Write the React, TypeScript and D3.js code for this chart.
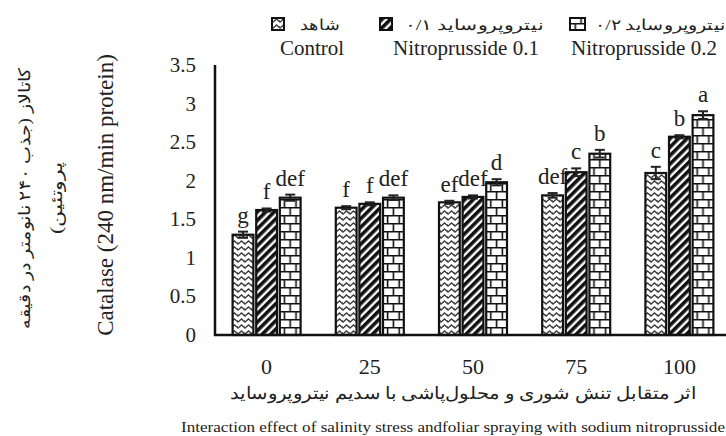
import * as d3 from "d3";

const categories = ["0", "25", "50", "75", "100"];
const seriesKeys = ["control", "np01", "np02"];

const controlValues = [1.3, 1.65, 1.72, 1.81, 2.1];
const np01Values = [1.62, 1.7, 1.79, 2.11, 2.57];
const np02Values = [1.78, 1.78, 1.98, 2.35, 2.85];

const controlErr = [0.04, 0.02, 0.02, 0.03, 0.08];
const np01Err = [0.02, 0.02, 0.02, 0.05, 0.02];
const np02Err = [0.04, 0.03, 0.04, 0.05, 0.05];

const controlLetters = ["g", "f", "ef", "def", "c"];
const np01Letters = ["f", "f", "def", "c", "b"];
const np02Letters = ["def", "def", "d", "b", "a"];

const yTicks = [0, 0.5, 1, 1.5, 2, 2.5, 3, 3.5];

const legendFa = ["شاهد", "نیتروپروساید ۰/۱", "نیتروپروساید ۰/۲"];
const legendEn = ["Control", "Nitroprusside 0.1", "Nitroprusside 0.2"];

const yTitleEn = "Catalase (240 nm/min protein)";
const yTitleFa1 = "کاتالاز (جذب ۲۴۰ نانومتر در دقیقه";
const yTitleFa2 = "پروتئین)";
const xTitleFa = "اثر متقابل تنش شوری و محلول‌پاشی با سدیم نیتروپروساید";
const xTitleEn = "Interaction effect of salinity stress andfoliar spraying with sodium nitroprusside";

const values = [controlValues, np01Values, np02Values];
const errs = [controlErr, np01Err, np02Err];
const letters = [controlLetters, np01Letters, np02Letters];

const W = 726;
const H = 436;
const serif = "'Liberation Serif', 'Times New Roman', serif";

export default function App() {
  const y = d3.scaleLinear().domain([0, 3.5]).range([335, 65]);
  const x0 = d3.scaleBand().domain(categories).range([215, 731]).padding(0);
  const x1 = d3.scaleBand().domain(seriesKeys).range([-34, 34]).paddingInner(0.12);
  const bw = x1.bandwidth();
  const fills = ["url(#zig)", "url(#diag)", ""];

  const legendBoxX = [272, 380, 570];
  const legendFaX = [320, 474, 660];
  const legendFaW = [40, 138, 130];
  const legendEnX = [312, 466, 644];

  return (
    <svg
      width={W}
      height={H}
      style={{ position: "absolute", left: 0, top: 0, background: "#fff" }}
      fontFamily={serif}
    >
      <defs>
        <pattern id="zig" patternUnits="userSpaceOnUse" width={7} height={6}>
          <rect width={7} height={6} fill="#fff" />
          <path d="M-1,5 L3.5,1 L8,5" fill="none" stroke="#3a3a3a" strokeWidth={1.4} />
          <path d="M-1,2 L0,3 M6,3 L8,1" fill="none" stroke="#777" strokeWidth={1} />
        </pattern>
        <pattern id="diag" patternUnits="userSpaceOnUse" width={6} height={6} patternTransform="rotate(45)">
          <rect width={6} height={6} fill="#fff" />
          <rect x={0} y={0} width={3.6} height={6} fill="#111" />
        </pattern>
        {categories.map((c) => {
          const bx = (x0(c) ?? 0) + x0.bandwidth() / 2 + (x1("np02") ?? 0);
          return (
            <pattern
              key={c}
              id={`brick-${c}`}
              patternUnits="userSpaceOnUse"
              x={bx}
              y={y(0)}
              width={bw}
              height={16}
            >
              <rect width={bw} height={16} fill="#fff" />
              <path
                d={`M0,0.75 H${bw} M0,8.75 H${bw} M${bw / 2},0 V8 M${bw * 0.22},8 V16 M${bw * 0.78},8 V16`}
                stroke="#111"
                strokeWidth={1.6}
                fill="none"
              />
            </pattern>
          );
        })}
      </defs>

      {/* legend */}
      {seriesKeys.map((k, i) => (
        <g key={k}>
          <rect
            x={legendBoxX[i]}
            y={18}
            width={i === 2 ? 15 : 12}
            height={12}
            fill={i === 2 ? `url(#brick-0)` : fills[i]}
            stroke="#111"
            strokeWidth={2}
          />
          <text
            x={legendFaX[i]}
            y={30}
            fontSize={15}
            textAnchor="middle"
            direction="rtl"
            textLength={legendFaW[i]}
            lengthAdjust="spacingAndGlyphs"
            fill="#222"
          >
            {legendFa[i]}
          </text>
          <text x={legendEnX[i]} y={55} fontSize={21} textAnchor="middle" fill="#222">
            {legendEn[i]}
          </text>
        </g>
      ))}

      {/* y axis title */}
      <text
        transform="translate(30,198) rotate(-90)"
        fontSize={16}
        textAnchor="middle"
        direction="rtl"
        textLength={262}
        lengthAdjust="spacingAndGlyphs"
        fill="#222"
      >
        {yTitleFa1}
      </text>
      <text
        transform="translate(62,198) rotate(-90)"
        fontSize={16}
        textAnchor="middle"
        direction="rtl"
        textLength={72}
        lengthAdjust="spacingAndGlyphs"
        fill="#222"
      >
        {yTitleFa2}
      </text>
      <text transform="translate(113,195) rotate(-90)" fontSize={23} textAnchor="middle" fill="#222">
        {yTitleEn}
      </text>

      {/* y ticks */}
      {yTicks.map((t) => (
        <text key={t} x={196} y={y(t) + 7} fontSize={21} textAnchor="end" fill="#222">
          {t}
        </text>
      ))}

      {/* bars */}
      {categories.map((c, ci) => {
        const cx = (x0(c) ?? 0) + x0.bandwidth() / 2;
        return (
          <g key={c}>
            {seriesKeys.map((k, si) => {
              const v = values[si][ci];
              const e = errs[si][ci];
              const bx = cx + (x1(k) ?? 0);
              const mid = bx + bw / 2;
              return (
                <g key={k}>
                  <rect
                    x={bx}
                    y={y(v)}
                    width={bw}
                    height={y(0) - y(v)}
                    fill={si === 2 ? `url(#brick-${c})` : fills[si]}
                    stroke="#111"
                    strokeWidth={2.2}
                  />
                  <line x1={mid} x2={mid} y1={y(v - e)} y2={y(v + e)} stroke="#222" strokeWidth={2} />
                  <line x1={mid - 5} x2={mid + 5} y1={y(v + e)} y2={y(v + e)} stroke="#222" strokeWidth={2} />
                  <line x1={mid - 5} x2={mid + 5} y1={y(v - e)} y2={y(v - e)} stroke="#222" strokeWidth={2} />
                  <text x={mid} y={y(v + e) - 9} fontSize={23} textAnchor="middle" fill="#222">
                    {letters[si][ci]}
                  </text>
                </g>
              );
            })}
            <text x={cx} y={374} fontSize={22} textAnchor="middle" fill="#222">
              {c}
            </text>
          </g>
        );
      })}

      {/* axes */}
      <line x1={215} x2={215} y1={65} y2={336} stroke="#111" strokeWidth={2.5} />
      <line x1={214} x2={W} y1={335} y2={335} stroke="#111" strokeWidth={2.5} />

      {/* x titles */}
      <text
        x={463}
        y={399}
        fontSize={17}
        textAnchor="middle"
        direction="rtl"
        textLength={467}
        lengthAdjust="spacingAndGlyphs"
        fill="#222"
      >
        {xTitleFa}
      </text>
      <text
        x={453}
        y={432}
        fontSize={15}
        textAnchor="middle"
        textLength={544}
        lengthAdjust="spacingAndGlyphs"
        fill="#222"
      >
        {xTitleEn}
      </text>
    </svg>
  );
}
